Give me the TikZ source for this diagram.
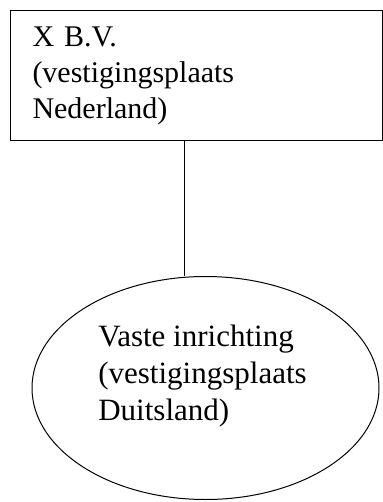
\documentclass[tikz,border=0pt]{standalone}
\usepackage{fontspec}
\setmainfont{Liberation Serif}
\usetikzlibrary{positioning, calc, shapes.geometric}

\begin{document}
\begin{tikzpicture}[
    x=1pt, y=1pt,
    base/.style={draw=black, line width=1pt, font=\fontsize{30}{36}\selectfont, align=left},
    entity/.style={base, rectangle, anchor=north west, text width=328pt, inner xsep=22pt, minimum height=130pt},
    branch/.style={base, ellipse, minimum width=347pt, minimum height=223pt, inner sep=0pt},
    branchText/.style={font=\fontsize{31}{37}\selectfont, align=left, inner sep=0pt},
    link/.style={line width=0.9pt}
]
\useasboundingbox (0,0) rectangle (382,-502);

\node[entity] (XBV) at (10,-10) {X B.V.\\(vestigingsplaats\\Nederland)};

\node[branch] (VI) at (205.5,-388) {};
\node[branchText] (VItext) at ([xshift=-3pt, yshift=12pt]VI.center) {Vaste inrichting\\(vestigingsplaats\\Duitsland)};

\coordinate (linkTop) at ([xshift=-12pt]XBV.south);
\draw[link] (linkTop) -- (linkTop |- VI.north);

\end{tikzpicture}
\end{document}
